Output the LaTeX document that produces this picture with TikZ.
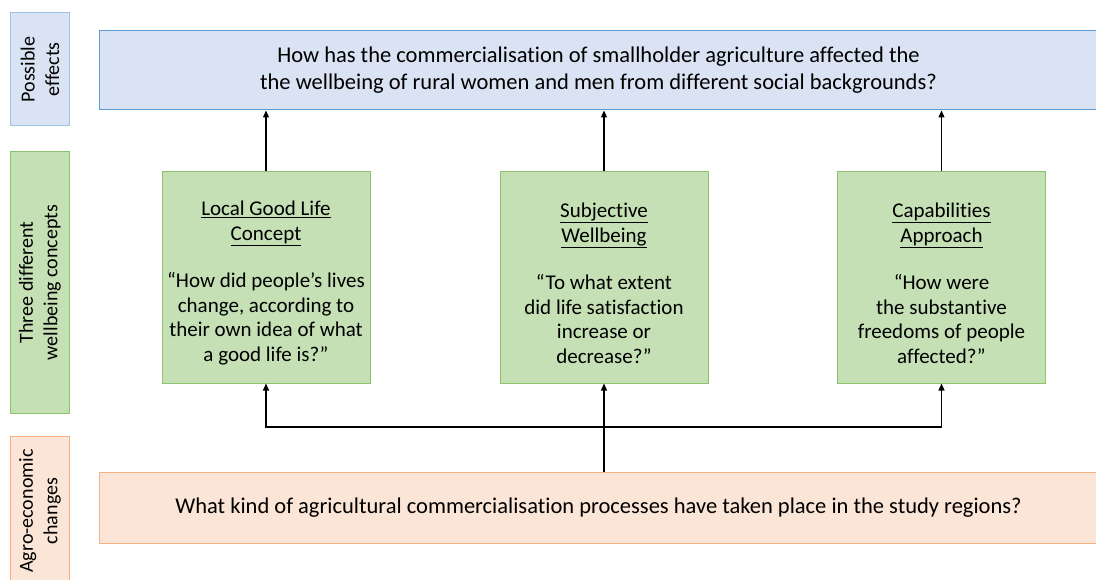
\documentclass[tikz,border=0pt]{standalone}
\usepackage{fontspec}
\setmainfont{Carlito}[Ligatures=NoCommon]
\usetikzlibrary{arrows.meta}
\definecolor{blueFill}{HTML}{DAE3F3}
\definecolor{blueLine}{HTML}{5B9BD5}
\definecolor{blueSide}{HTML}{9DC3E6}
\definecolor{greenFill}{HTML}{C5E0B4}
\definecolor{greenLine}{HTML}{8DC36A}
\definecolor{orangeFill}{HTML}{FBE5D6}
\definecolor{orangeLine}{HTML}{F4B183}
\tikzset{
  box/.style={draw,line width=1pt,align=center,inner sep=0pt},
  sidebox/.style={box,rotate=90,minimum width=#1,minimum height=59pt,
    font=\fontsize{20}{24.5}\selectfont},
  widebox/.style={box,minimum width=999pt,minimum height=#1,
    font=\fontsize{22.5}{27}\selectfont},
  conceptbox/.style={box,fill=greenFill,draw=greenLine,minimum width=208pt,
    minimum height=211pt,font=\fontsize{21}{24.5}\selectfont},
  link/.style={-{Triangle[length=7pt,width=6pt]},line width=1.2pt}
}
\newcommand{\ctitle}[2]{\rule{0pt}{26pt}\underline{#1}\\\underline{#2}\\[23pt]}

\begin{document}
\begin{tikzpicture}[x=1pt,y=-1pt]
    \clip (0,0) rectangle (1096,580);
    % levels on the left
    \node[sidebox=113pt,fill=blueFill,draw=blueSide] (sideEffects) at (40,69.5) {Possible\\effects};
    \node[sidebox=261pt,fill=greenFill,draw=greenLine] (sideConcepts) at (40,282.5) {Three different\\wellbeing concepts};
    \node[sidebox=150pt,fill=orangeFill,draw=orangeLine] (sideChanges) at (40,511) {Agro-economic\\changes};
    % main boxes
    \node[widebox=79pt,fill=blueFill,draw=blueLine] (effects) at (598.5,70.5)
      {How has the commercialisation of smallholder agriculture affected the\\the wellbeing of rural women and men from different social backgrounds?};
    \node[conceptbox] (goodLife) at (266,277.5) {\ctitle{Local Good Life}{Concept}“How did people’s lives\\change, according to\\their own idea of what\\a good life is?”};
    \node[conceptbox] (subjective) at (604,277.5) {\ctitle{Subjective}{Wellbeing}“To what extent\\did life satisfaction\\increase or\\decrease?”};
    \node[conceptbox] (capabilities) at (941.5,277.5) {\ctitle{Capabilities}{Approach}“How were\\the substantive\\freedoms of people\\affected?”};
    \node[widebox=71pt,fill=orangeFill,draw=orangeLine] (changes) at (598.5,507.5)
      {What kind of agricultural commercialisation processes have taken place in the study regions?};
    % arrows
    \foreach \c in {goodLife,subjective,capabilities}
      \draw[link] (\c.north) -- (\c.north |- effects.south);
    \coordinate (split) at (subjective.south |- 0,427);
    \draw[link] (changes.north -| subjective.south) -- (subjective.south);
    \draw[link] (split) -| (goodLife.south);
    \draw[link] (split) -| (capabilities.south);
  \end{tikzpicture}
\end{document}
